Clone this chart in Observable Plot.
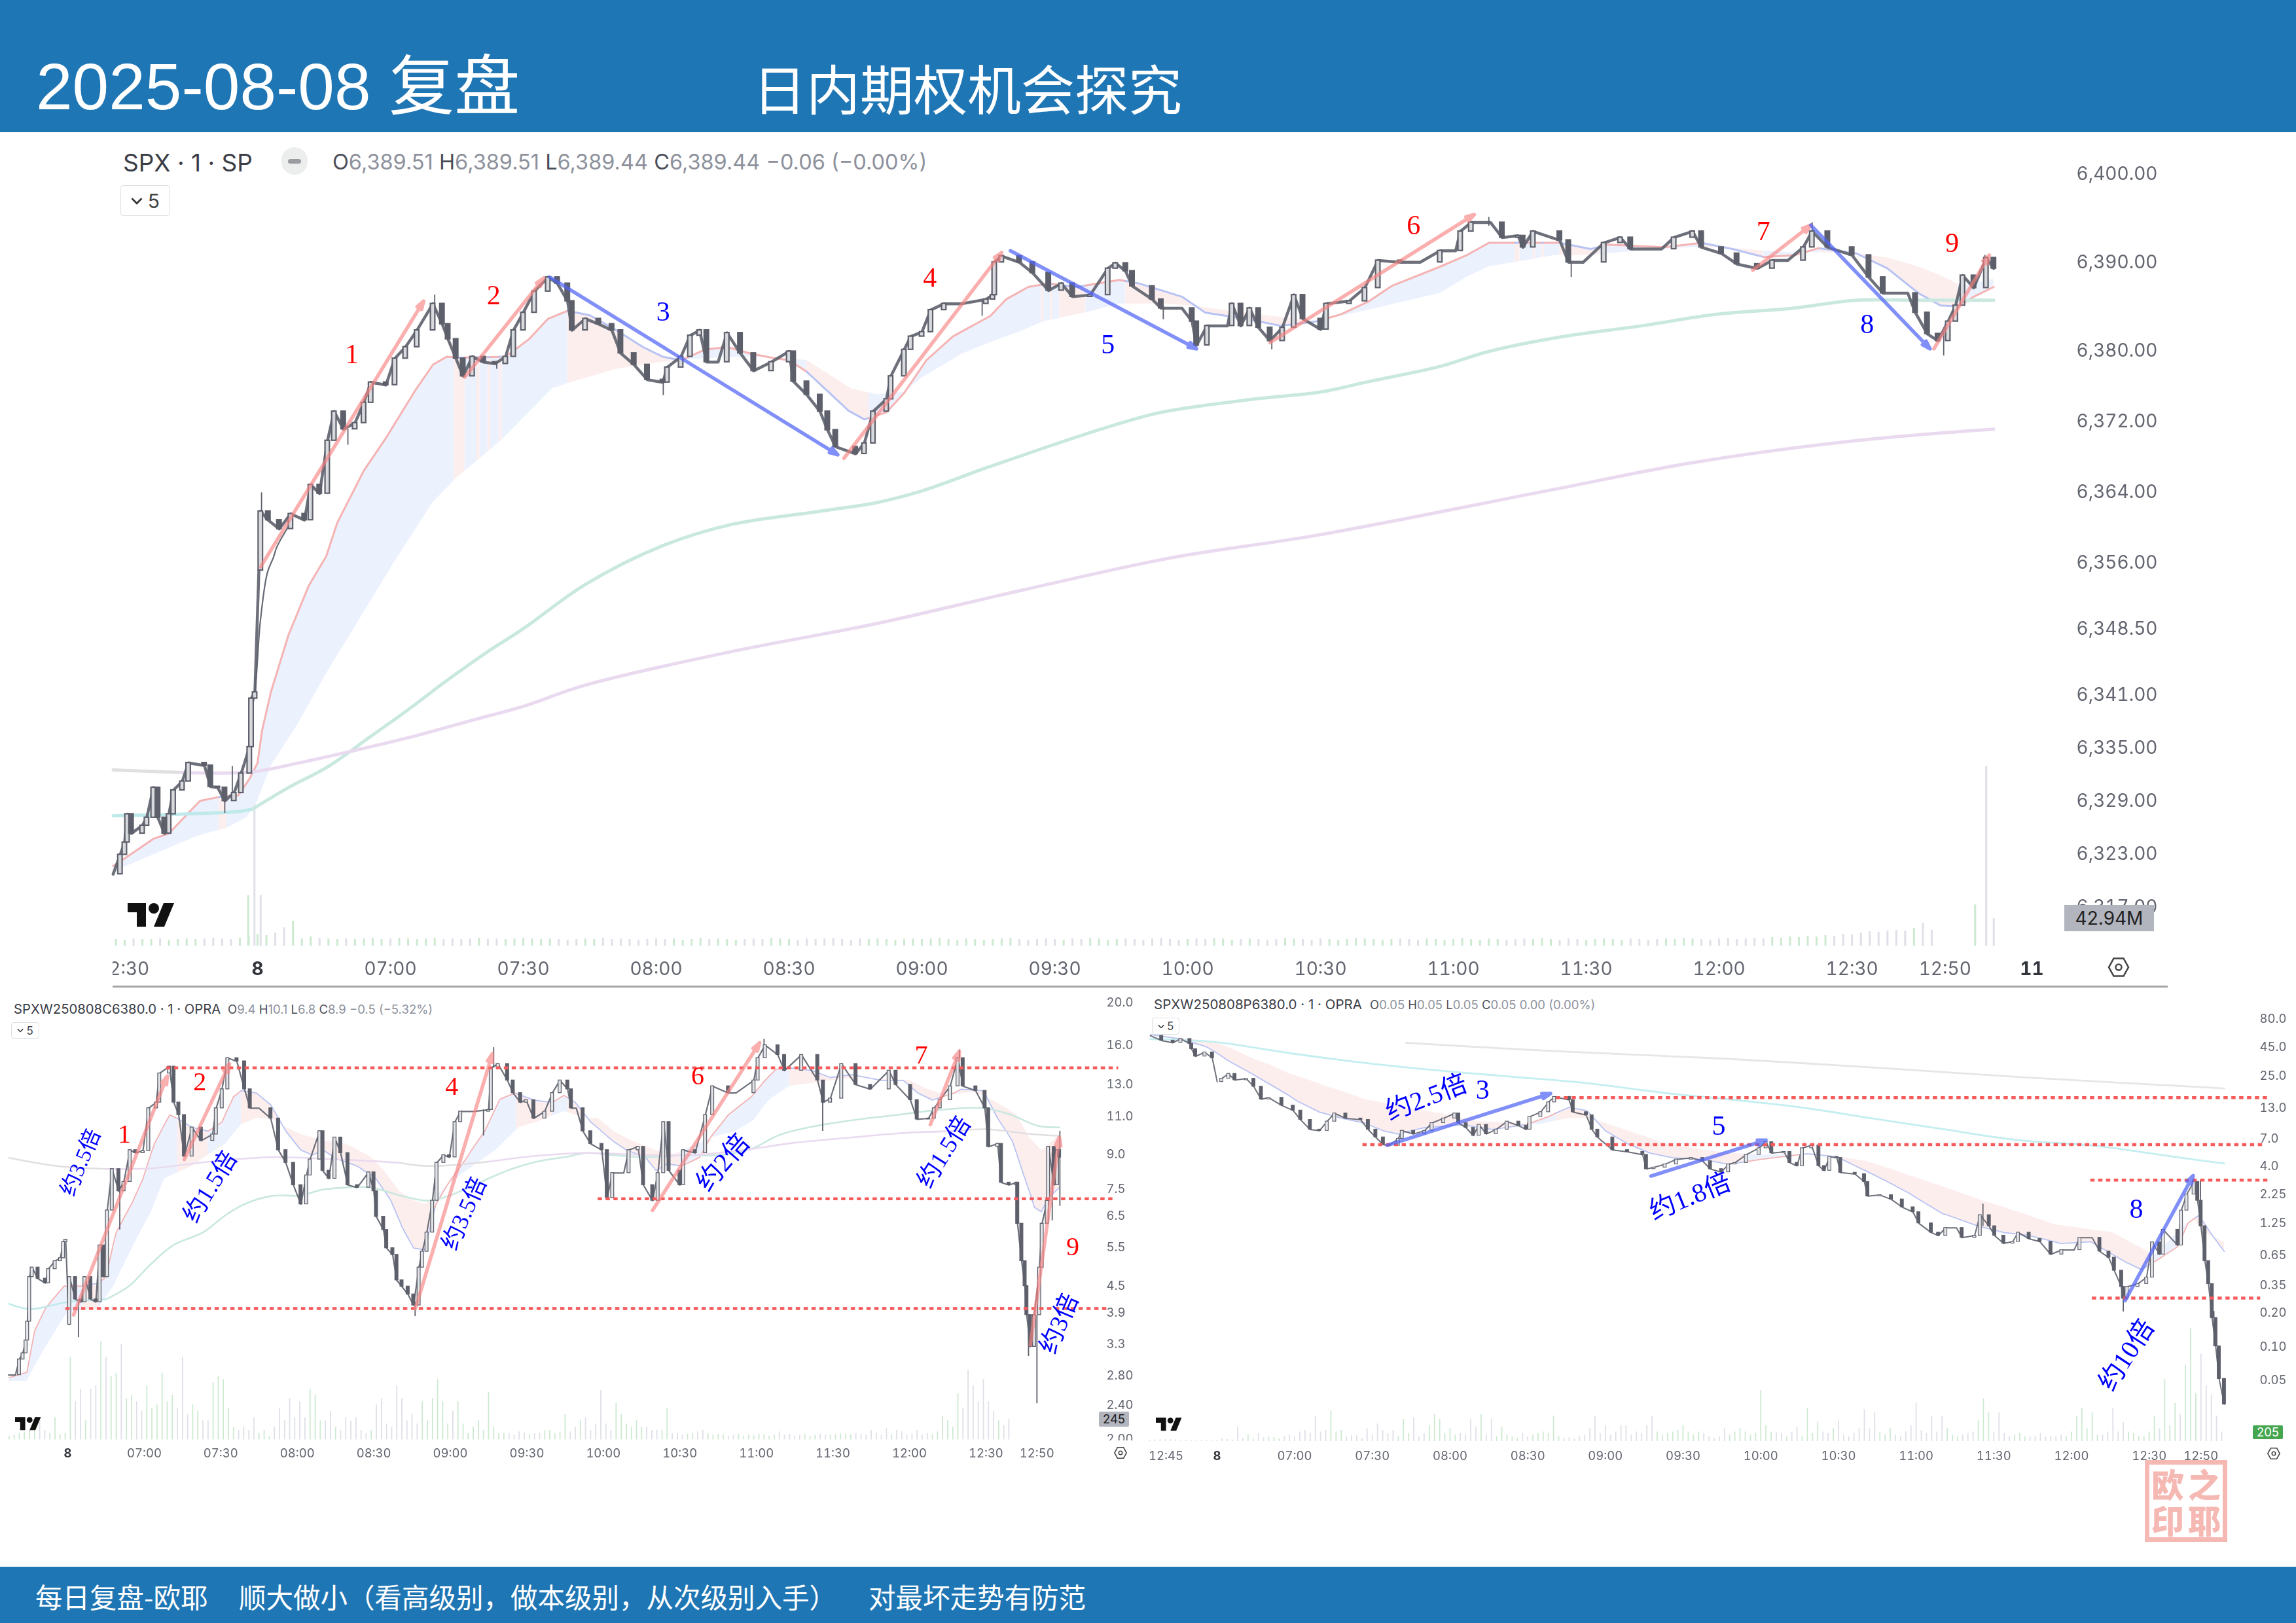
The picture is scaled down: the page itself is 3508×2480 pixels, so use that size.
<!DOCTYPE html>
<html><head><meta charset="utf-8">
<script src="https://cdn.jsdelivr.net/npm/d3@7"></script>
<script src="https://cdn.jsdelivr.net/npm/@observablehq/plot@0.6"></script>
<style>
html,body{margin:0;padding:0;background:#fff}
#page{position:relative;width:3508px;height:2480px;overflow:hidden;background:#fff;font-family:Inter,"Noto Sans CJK SC",sans-serif}
#page>svg{position:absolute;background:transparent;max-width:none}
.abs{position:absolute;white-space:pre}
</style></head><body><div id="page"></div>
<script>
// ---------- SPX 1-minute session (minutes after 06:30, price) ----------
const spxT=[-32.6,-31,-30,-29.4,-28.5,-26,-25,-23.5,-22.5,-21,-20,-19,-17,-15.6,-12,-10.6,-9,-7.4,-5.3,-3.7,-1.8,-1.4,-0.6,0.3,0.7,2.4,4.9,7.5,10.6,12,14,15.8,17.3,19.4,22,24,25.6,29,31,33.4,36,39.6,41.7,43,44.8,46.4,48.5,51,53.6,56,57.8,60,62.5,65.6,67.7,70,71,74,77,80,82,85,88,91.5,92.5,95.6,97.7,99.8,101.4,104,106,109,112,116,120,121,124,127,128.7,130.5,135,137,139,142,143,146,147.5,150,152,155,159,164.5,166,166.4,168,172,175,178.6,181.5,184,188,192,193.7,196,197.5,202,204,208.7,211,212,214.4,219,220,222,224,226,228.6,231.4,234,236,240,241.3,246.5,250,253,258,262.5,267,270.5,271.6,274,278.4,281,284.6,285.7,288,294,296,299.3,304,307.7,310,317,319.8,324,326,330.5,334,338.6,342,345.5,349,351,354.5,360,363.8,367,372.6,374.3,377,379.4,381.7,383.4,385,387.5,390.3,392];
const spxC=[6320.6,6322.8,6324.2,6327.4,6325.2,6326.1,6327,6330.4,6327,6325.2,6327.4,6330.1,6331.1,6333.2,6332.9,6330.5,6330.4,6328.9,6329.8,6332,6335,6340.5,6341.2,6355,6361.7,6360.7,6359.7,6361.4,6360.7,6364.7,6363.7,6369.7,6373,6371,6371.7,6374,6376.3,6376,6379,6380.3,6382.2,6385.2,6382.9,6381.2,6379,6377,6379.2,6378.6,6378.4,6379.2,6382.2,6384.2,6386.6,6388.2,6387.5,6385.5,6382.2,6383.5,6382.9,6382.2,6379.6,6378.3,6376.6,6376.3,6378,6379.2,6381.6,6382.2,6378.6,6378.6,6381.9,6379.6,6377.6,6378.6,6379.8,6376.4,6374.9,6373,6370.9,6369,6368.2,6369.4,6373,6374.4,6377,6380,6381.5,6382,6384.5,6385.2,6385.2,6385.7,6386.2,6389.9,6390.6,6389.9,6388.7,6386.7,6387.5,6386,6386.2,6389.2,6389.8,6388.9,6387.2,6385.7,6384.7,6384.7,6383.2,6380.5,6382.7,6382.7,6385.2,6382.7,6384.7,6382.5,6381,6382.5,6386.2,6383.5,6382.3,6385.2,6385.5,6387,6390.1,6389.9,6389.9,6391.2,6391.2,6393.4,6394.4,6394.4,6392.7,6392.9,6391.6,6393.4,6392.4,6389.9,6389.9,6392.1,6392.7,6391.4,6391.4,6392.7,6393.4,6391.6,6390.9,6389.7,6389.2,6390.1,6390.1,6391.6,6393.4,6391.6,6390.7,6388.2,6386.4,6386.4,6384.2,6381.8,6381,6383.2,6385,6388.4,6387,6390.4,6389.2];
const spxGapT=[0.3];
const spxWickT=[-7.4,-5.7,0.9,20.4,40,54,91.6,163.6,204.5,229,278,296.6,351,380.7,390];
const spxWickHi=[6329,6332.8,6363.8,6371,6386.2,6378.6,6376.3,6385.5,6385,6381,6395,6390,6394.4,6382,6390.7];
const spxWickLo=[6327.5,6329.8,6355,6369.2,6384,6377.8,6374.8,6383.8,6383.4,6380,6394,6388.2,6392,6379.3,6389];
const spxFastT=[-32.6,-23.5,-20,-17,-13,-8,-4.4,-1.8,0,1,3,7,11.5,15.5,18,24,29,35.5,39.6,42.7,45.8,56,61.3,65.6,70,75,81,87,91.5,95.6,101,106,111,116,120,124,128.7,133.4,137,142,146,151,157,165.4,169,174,178.6,185,194.6,199,208.7,214,223,231,239,244.6,251,256,267,273,278,282,294,301,305,317.5,326,333,340,347,352.5,361,368,375,380,384,387.5,392];
const spxFast=[6321.5,6324.6,6325.2,6326.8,6328.9,6329.4,6329.5,6331.4,6333.2,6336.8,6341.2,6347.7,6353.2,6356.6,6360.4,6366.3,6370,6375.3,6378.3,6379.2,6379.1,6379.2,6381.2,6383.5,6384.4,6383.9,6382.2,6380.3,6379.2,6378.8,6380,6380.3,6379.6,6379.1,6378.8,6377.5,6375.3,6373.1,6372.1,6372.9,6375.1,6378.8,6381.5,6383.8,6385.7,6387.1,6387.5,6387.1,6387.9,6387.5,6386,6384.2,6383.5,6382.7,6383.2,6384,6385.5,6387.2,6389.4,6390.7,6392.1,6392.1,6392.1,6391.4,6391.9,6391.6,6392.1,6391.4,6390.5,6390.7,6391.5,6390.9,6389.2,6386.4,6385,6384.9,6386,6387.1];
const spxSlowT=[-31,-23.5,-13.6,-7,-2.4,0,3,9,16,22.6,30.6,39.6,44.8,55,66.6,70.8,81,91.5,95.6,101,110,116,124,128.7,134,140,146,150,159,166.4,172,177.6,187,194.6,205,212,222,231,239,251,267,273,278,284,293,301,312,324,333,340,347,352.5,361,368,375,380,385,392];
const spxSlow=[6321.2,6322.8,6324.9,6325.8,6327,6328.9,6332.8,6337.5,6343.7,6349.1,6355.7,6362.7,6365.4,6369.7,6375.6,6376.3,6377.8,6378.6,6378.8,6379,6379.2,6379.1,6378.8,6377.3,6375.6,6374.9,6375.2,6376.8,6379.5,6381,6382,6383.2,6384.2,6385.2,6385.2,6384.9,6384.2,6383.7,6383.2,6384.5,6386.4,6388.2,6389.4,6389.9,6390.7,6390.7,6391.2,6391.6,6391.5,6391.2,6391,6391,6390.9,6390.4,6389.4,6388.4,6387.2,6388];
const spxBear=[[-8.7,-7],[44.4,46.8],[49.5,50.2],[52,52.6],[54.6,55.2],[70,95.6],[124,138],[177,177.5],[179,179.5],[181,187],[196,240],[284,285],[288,288.5],[290,290.5],[294,303],[326,340],[353,384]];
const spxGreenT=[-32.6,-17,-4,-1,7,16,25,34.5,42.4,52,60,74,91,107,127,140,150,165,179.5,193,204,225,240,251,267,278,295,312.5,329.3,346.6,361,374.7,392];
const spxGreen=[6327.2,6327.4,6327.7,6328,6330.4,6332.8,6336,6339.4,6342.4,6345.8,6348.4,6353.4,6357.7,6360.2,6361.7,6362.7,6364,6366.7,6369.2,6371.4,6372.9,6374.4,6375.2,6376.4,6378.1,6379.8,6381.5,6382.7,6384,6384.7,6385.6,6385.6,6385.6];
const spxPurpleT=[-32.6,-17,-1,9.4,21,36,49,60,74,107,140,173,206,239.4,291,324,361,392];
const spxPurple=[6332.4,6332.1,6332.2,6333.2,6334.5,6336.3,6338.1,6339.6,6342,6345.8,6349,6352.8,6356.4,6359,6364,6367.2,6369.7,6371];
const spxGrayT=[-2,-0.5,0.6,2.2,3.6,4.4,7.5];
const spxGray=[6336.9,6341.8,6349.1,6354.7,6356.5,6357.7,6360.4];
const spxArrowFromT=[0.7,46.8,66,132.4,170,228.6,337.6,350.7,378.5];
const spxArrowFromP=[6355.4,6376.9,6388.2,6367.7,6391.2,6380.8,6389,6394.1,6380.1];
const spxArrowToT=[37.5,64.6,131,168,212,274.7,350.7,377.6,391];
const spxArrowToP=[6385.5,6388.1,6368.1,6391,6380.1,6395.3,6394.1,6380.1,6390.7];
const spxArrowUp=[1,1,0,1,0,1,1,0,1];
const spxNumT=[21.3,53.3,91.6,151.8,192,261,340,363.4,382.6];
const spxNumP=[6379.5,6386.1,6384.3,6388.1,6380.6,6394.1,6393.4,6382.9,6392.1];
const spxNumText=["1","2","3","4","5","6","7","8","9"];
const spxYTicks=[6400,6390,6380,6372,6364,6356,6348.5,6341,6335,6329,6323,6317];
const spxYLabels=["6,400.00","6,390.00","6,380.00","6,372.00","6,364.00","6,356.00","6,348.50","6,341.00","6,335.00","6,329.00","6,323.00","6,317.00"];
const spxXTicks=[-29,30,60,90,120,150,180,210,240,270,300,330,360,381];
const spxXLabels=["2:30","07:00","07:30","08:00","08:30","09:00","09:30","10:00","10:30","11:00","11:30","12:00","12:30","12:50"];
const spxXBoldTicks=[0,400.6];
const spxXBoldLabels=["8","11"];
const spxVolStart=-32;
const spxVol=[10,9,11,10,10,11,9,10,11,10,11,12,11,10,12,14,18,16,20,28,38,11,14,12,11,10,11,10,11,12,10,11,12,11,10,11,12,10,11,10,11,12,10,11,10,11,12,11,10,11,10,9,10,11,10,12,10,11,10,9,10,11,10,11,9,10,12,10,11,10,9,10,11,10,12,11,10,9,11,10,11,12,10,9,11,10,11,10,9,10,11,10,11,12,10,9,11,10,9,10,11,12,10,9,10,11,10,9,11,10,12,11,9,10,11,10,9,11,12,10,9,10,11,10,12,11,9,10,11,10,9,10,12,11,10,9,11,10,9,10,12,11,10,9,10,11,10,9,11,10,9,10,12,10,9,11,10,9,10,11,10,12,10,9,11,10,9,10,11,10,9,11,10,9,10,11,10,12,11,10,9,11,12,10,11,12,11,13,12,14,13,15,14,16,15,18,17,20,22,21,23,24,23,27,35,24];
const spxVolSpikeT=[-2.1,-0.7,0.7,387.8,390.3,392];
const spxVolSpike=[77,270,77,63,275,42];
const spxVolSpikeDown=[0,1,1,0,1,1];

// ---------- call SPXW250808C6380 ----------
const callT=[-23.2,-20.5,-19,-17.6,-16.4,-15.8,-15,-14,-11.7,-8.8,-7.6,-5,-2.9,-1.7,-0.8,0.5,0.7,3,5.2,6.7,9,11,12.6,14,15.5,17.4,20,22,24.4,26.6,29.5,31.7,34.7,36,39.8,41.6,43.5,45.7,48.7,52.3,56.8,58.2,60.5,62.7,66.3,69.3,71.5,75,79.6,82.6,85.5,88.5,91.4,93.6,95,98.8,100,102.4,104.7,107,109.8,113.5,118,120,121,123.8,125,127.4,129,131,133.4,135.6,137.7,139,140.8,143,144.7,147.4,149.6,151.8,154,159,165,166,168.7,172.4,174.6,177.5,179.7,182.7,187,190,193,196,197.4,199.4,202,205,209.4,211.5,213.6,218,220,223.6,225.7,229.3,231.4,233.6,235.7,240,241.4,246,250,252.8,259,262,269,270.6,273.4,278.4,281,287.7,294,296.2,299,303.4,309,314.7,322,324.7,330.4,333,337.5,339.7,342,346,349,351,356,359.6,361,364.6,366,369,372,372.4,374,375.3,376,377.4,379,381,382,384,384.5,386.7,388,388.8];
const callC=[2.79,2.79,3.03,3.13,3.35,3.7,4.68,4.92,4.64,4.53,4.88,5.09,5.17,5.63,5.7,3.64,4.68,4.16,4.1,4.68,4.16,4.1,5.53,4.68,6.65,8.27,7.36,7.73,9.14,9,9.1,11.4,11.75,13.7,14.2,11.75,11,8.84,10.3,9.6,9.93,11.4,12.6,14.85,14.6,12.6,11.4,11.4,10.8,9.14,8.55,7.6,6.87,8,8.7,10.1,8.2,7.86,9.77,9,7.6,7.5,8.13,7.36,6.43,6,5.45,5.26,4.6,4.45,4.27,4.03,4.92,5.35,5.92,7,8.55,8.9,8.8,10.6,11.2,11.2,11.3,14.1,14.4,13.2,12.35,11.75,11.9,10.8,11.2,12.35,13.2,12.6,11.4,11.4,10.1,9.45,9.14,7.1,8.1,8.1,9.14,9.3,7.6,7,8.1,10.6,8.2,7.6,9.14,9,11,12.8,12.35,12.35,13.2,14.85,15.9,15.1,13.9,15.1,13.2,11.75,12,14.4,12.9,12.6,13.9,12.9,11.9,10.75,10.8,11.4,11.9,12.8,14.85,12.8,12.5,11.4,9.3,9.45,7.7,7.6,7.7,6.2,5.09,4.46,3.83,3.24,3.83,4.92,6.2,7,9.3,7.6,9.14,8.8];
const callGapT=[0.5];
const callWickT=[4.2,20.4,136.2,163,167,273,296,349.6,376.7,380,386,389];
const callWickHi=[4.1,7.36,4.1,11.3,15.7,16.4,11.75,15.5,3.83,3.83,9,10.1];
const callWickLo=[3.4,6,3.8,9.85,14.1,15.9,10.1,14.85,3.08,2.4,6.3,6.8];
const callFastT=[-23,-16,-13,-8.8,-1.4,6,12,15,19,25,29.5,34,40,43,48.7,55,60.5,65,68,74,79.6,85.5,91.4,96,100,106,113.5,120.8,126.7,131,135.6,140,144.4,148.8,156,163.5,169.5,175.3,182.7,190,194.5,199,205,213.6,219,226.5,230.7,235,240.7,247.8,252,259,268,273.4,277.7,283.4,292,299,307.6,319,327.6,333.3,339,347.5,350.3,358.9,364.6,370.3,374.5,379,381.7,384.5,388.8];
const callFast=[2.75,2.83,3.52,3.96,4.46,4.46,4.53,4.68,5.92,6.87,7.86,9.45,11,10.8,10.3,10.1,10.6,12.1,12.5,12.35,11.6,10.1,9.14,8.9,9.14,8.7,8.4,7.86,7,6.1,5.45,5.4,6.87,7.6,8.7,10.1,11.95,12.35,11.9,11.75,12.2,11.75,10.6,9.6,9.14,8.8,8.2,8.5,8.4,8.8,9.77,11,12.1,13.2,14,14.1,13.9,13.4,13.6,13.2,13.2,12.35,11.9,12.35,12.6,12.5,10.8,9.6,8.1,6.76,6.6,7.1,7.5];
const callSlowT=[-16,-7,0,12,18,24,32.5,38,43,48.7,55,62,68,74,80,85.5,91.4,100,109,119,124,130,135.6,140,143,150,159,168,177,184,194.5,204,208,214,221,231,238,253,262,269,275,283,292,300,310,330,337,345,355,360,368,372,377,382,388.8];
const callSlow=[2.7,3.35,3.89,3.96,4.46,5.26,6.54,7.86,8.1,8.4,8.9,9.45,10.45,10.8,10.8,10.3,9.93,9.6,9.45,8.8,8.2,7.36,7,6.87,7,7.7,8.4,9.14,10.3,10.6,11.2,10.8,10.8,10.1,9.6,9.1,8.94,9.77,10.1,10.7,11.9,12.8,13,13.2,13.4,13.2,12.6,12.2,12.4,12.1,11.4,11,9.77,9.1,9.9];
const callBear=[[6,12],[43,55],[68,144],[176,190],[196,240],[283,342],[350,388.8]];
const callGreenT=[-23,-14.6,0,15,24,32.5,41.3,53,62,69.3,79.6,91.4,100,109,119,130,141.5,150,162,174,184,194.5,204,213.6,228,242,256,268,279,290.5,307.6,325,342,359,370,380,388.8];
const callGreen=[4.06,3.95,4.1,4.16,4.46,5,5.53,5.92,6.49,6.87,7.17,7.2,7.42,7.5,7.5,7.2,7,7.2,7.73,8.27,8.6,8.8,9,8.9,8.8,8.9,8.9,9.2,9.9,10.3,10.7,11,11.3,11.4,11,10.4,10.3];
const callPurpleT=[-23,-4,15,32.5,56,80,106,130,141.5,165,187,204,228,245,265,285,307.6,327.6,347.5,360,377.4,388.8];
const callPurple=[8.77,8.4,8.27,8.3,8.6,8.8,8.7,8.55,8.4,8.6,8.9,9,8.9,8.9,9.14,9.5,9.77,10,10.1,10.2,9.95,9.85];
const callDashFrom=[38.7,-0.8,207.9];
const callDashTo=[412,408,410];
const callDashV=[14.1,3.96,7.07];
const callArrowFromT=[2.3,45.7,136.3,229.3,338.2,377.4];
const callArrowFromV=[3.83,8.7,3.96,6.65,10.45,3.27];
const callArrowToT=[39,63.4,166.5,271.3,349.6,388.8];
const callArrowToV=[13.5,14.4,15.2,16.1,15.4,9.77];
const callNumT=[22.2,51.8,150.6,247,334.6,394];
const callNumV=[9.92,13.08,12.77,13.5,15.1,5.48];
const callNumText=["1","2","4","6","7","9"];
const callNoteT=[5.1,55.9,155.5,257,343.6,388.8];
const callNoteV=[8.56,7.53,6.54,8.56,9.04,3.66];
const callNoteText=["约3.5倍","约1.5倍","约3.5倍","约2倍","约1.5倍","约3倍"];
const callNoteAngle=[-67,-58,-66,-49,-58,-67];
const callNoteSize=[33,37,36,40,37,38];
const callYTicks=[20,16,13,11,9,7.5,6.5,5.5,4.5,3.9,3.3,2.8,2.4,2];
const callYLabels=["20.0","16.0","13.0","11.0","9.0","7.5","6.5","5.5","4.5","3.9","3.3","2.80","2.40","2.00"];
const callXTicks=[30,60,90,120,150,180,210,240,270,300,330,360,380];
const callXLabels=["07:00","07:30","08:00","08:30","09:00","09:30","10:00","10:30","11:00","11:30","12:00","12:30","12:50"];
const callVolStart=-23;
const callVol=[10,15,20,25,30,45,60,30,20,70,15,20,260,120,160,60,160,170,310,260,200,210,300,130,140,120,90,170,100,110,210,120,140,100,260,80,110,90,60,60,180,200,190,100,40,30,40,30,70,20,30,10,40,100,60,130,70,120,70,160,140,60,60,90,40,30,70,60,70,30,20,30,110,130,50,40,170,130,60,80,50,120,60,130,190,120,50,90,120,50,20,40,60,30,150,40,20,20,20,15,25,20,15,20,20,30,30,20,25,80,25,40,60,70,30,50,155,50,30,115,80,50,40,60,40,40,30,30,30,100,20,20,15,18,20,25,30,20,15,18,15,12,15,18,12,15,12,18,15,12,15,25,15,18,12,15,18,12,15,18,14,15,15,20,18,15,20,18,15,30,20,15,35,15,30,25,15,18,30,15,20,15,25,75,60,40,145,100,220,170,120,190,120,90,60,45,65];

// ---------- put SPXW250808P6380 ----------
const putT=[-25.7,-21.4,-17,-14,-10.5,-9.8,-8.3,-4.7,-1.8,0.1,1.8,4.5,6.9,11.3,14.2,17.1,20,25,29.4,32.3,36,39.6,42.5,45.4,49.7,55.5,58.4,61.3,64.2,66.4,70,71.5,75.9,80.2,83,87.5,91.8,93.3,96.2,99,101.2,104,107.8,112,116.5,119.4,120.8,125,128,130.3,136,137.5,142.6,144.8,147,152.8,158.5,164.4,165.8,168.7,173,177.4,183.2,187.6,190.5,194.8,197.5,200,204.4,209.3,212,214.2,219,221.2,224,226,229.6,232.4,234.5,236.6,239.4,240.8,246.4,250,251.3,256,260.4,264.6,268.8,271,275.8,278.6,281.4,285.6,287.7,292.6,294.7,298.2,300.3,303.8,307.3,309.4,313.6,317.8,322,326.2,331,333.2,338,340.9,344.4,346.5,349.3,350,351.4,355.6,359,361.2,364,365.4,371,372.4,374.5,377.3,378.7,380,381.5,382.9,384.3,385.7,387,389];
const putC=[55.7,50.5,48.2,52.2,47.3,42.4,36.5,39.7,35.3,21.7,23.2,25.6,22.5,23.2,19.7,15.2,15.7,13.4,12.1,10,8.2,8,9.66,11.4,10.3,10,8.2,7,6.03,5.9,6.8,8,7.47,8,9.36,10.3,11.4,9.36,8.5,7.24,9.05,7.47,8.2,9.66,8.85,8.2,10.65,11.7,14.3,16,15,11.7,11,8.2,7,5.4,5.2,4.9,3.66,3.78,4.03,4.45,4.6,4.3,3.66,3.43,4.03,4.15,4.9,5.6,6.35,5.06,5.2,4.16,3.9,5.6,5.94,3.9,3.54,4.7,4.6,3.4,3.3,2.82,2.1,2.15,1.97,1.68,1.52,1.21,1,0.94,1.1,1.1,0.9,0.94,1.43,1.14,0.94,0.8,0.83,1,0.88,0.83,0.64,0.7,0.7,0.9,0.9,0.68,0.6,0.46,0.33,0.26,0.33,0.35,0.4,0.82,0.64,1.06,0.77,1.57,2.18,2.82,1.92,1.14,0.56,0.35,0.175,0.098,0.0504,0.03];
const putGapT=[0.1];
const putWickT=[295.8,350,379.8,372,385];
const putWickHi=[1.79,0.33,2.92,1.57,0.2];
const putWickLo=[1.14,0.198,1.92,0.77,0.098];
const putFastT=[-25.7,-14,-4,4.8,13.5,22,30.9,39.6,48.3,57,64.2,70,80,94.7,106.3,119.4,128,136,142.6,150,158.5,167.3,176,187.6,197.5,210,228,239.4,249,259,270,280,294,304,313.6,326,337.4,345.8,351.4,357,362.6,371,375,379,383.6,389];
const putFast=[57,52,44.3,33,25.6,19.7,14.7,11.7,10.3,9.36,8,7.47,8.5,9.05,8.2,9.05,10.65,12.9,12.1,8,6.14,5.06,4.6,4.45,4.03,4.45,5,4.7,3.66,2.82,2.04,1.48,1.14,1,0.94,0.8,0.83,0.64,0.54,0.47,0.56,0.75,1.21,1.41,1,0.68];
const putSlowT=[-25.7,-11,-1,13.5,28,42.5,57,71.5,86,100.5,115,124,136,144,158.5,173,187.6,197.5,211.4,225,239.4,250.6,267.4,281.4,295.4,309.4,323.4,337.4,345.8,352.8,362,371,377,381,389];
const putSlow=[57,52,49,35.3,25.6,19.7,15.2,12.9,11.4,9.66,9.36,9.05,10.3,10.3,8,6.14,5.4,5.06,4.9,4.9,4.7,4.3,3.2,2.5,1.92,1.52,1.18,1.06,1,0.82,0.62,1,1.34,1,0.82];
const putBear=[[-25.7,119],[131,205],[225,361],[378,389]];
const putCyanT=[-25.7,-1,28,57,86,115,144,173,197.5,225.4,253,281.4,309.4,337.4,351.4,372.4,389];
const putCyan=[52,49,39,32,27.3,24,21,17.3,15.2,12.9,10.3,8.2,6.6,5.94,5.4,4.6,4.1];
const putGrayT=[73,115,158.5,197.5,253.4,309.4,389];
const putGray=[48.2,42.4,38,34.7,29.1,24,19];
const putDashFrom=[131,56.3,337.4,338];
const putDashTo=[406.6,403.8,406.6,403];
const putDashV=[15.7,6.03,2.92,0.262];
const putArrowFromT=[65.7,167.6,350.7];
const putArrowFromV=[5.94,3.17,0.249];
const putArrowToT=[128.8,212,377];
const putArrowToV=[17.1,6.6,3.2];
const putNoteT=[80.9,182.7,351.3,102.6,193.8,355];
const putNoteV=[15.7,2.08,0.0818,18.4,8.81,1.62];
const putNoteText=["约2.5倍","约1.8倍","约10倍","3","5","8"];
const putNoteAngle=[-21,-22,-57,0,0,0];
const putNoteSize=[40,40,40,42,42,42];
const putYTicks=[80,45,25,13,7,4,2.25,1.25,0.65,0.35,0.2,0.1,0.05];
const putYLabels=["80.0","45.0","25.0","13.0","7.0","4.0","2.25","1.25","0.65","0.35","0.20","0.10","0.05"];
const putXTicks=[-19.7,30,60,90,120,150,180,210,240,270,300,330,360,380];
const putXLabels=["12:45","07:00","07:30","08:00","08:30","09:00","09:30","10:00","10:30","11:00","11:30","12:00","12:30","12:50"];
const putVolStart=-30;
const putVol=[4,3,3,5,5,6,6,5,3,3,3,3,3,3,3,3,8,6,5,45,10,20,8,25,12,14,12,8,15,20,15,30,35,25,80,30,35,95,30,35,15,20,18,10,40,20,55,35,25,35,15,70,25,75,15,25,50,85,70,25,40,20,25,20,70,45,85,20,70,15,45,20,15,10,25,15,20,25,30,25,80,15,10,12,8,15,20,40,80,25,50,20,30,50,50,20,30,25,50,80,30,20,25,30,35,50,30,20,30,25,15,10,15,40,20,30,40,30,20,25,160,50,30,30,25,15,30,45,15,105,25,60,30,25,40,65,20,15,25,40,100,40,90,30,20,40,20,15,30,50,120,35,25,80,30,80,40,20,15,20,25,30,65,135,90,30,90,25,15,20,25,15,15,15,25,15,15,15,20,15,30,80,105,40,90,20,20,30,105,30,60,30,25,15,15,30,80,40,195,50,120,85,240,355,150,275,175,145,80,30];

// ---------- page text ----------
const titleText="2025-08-08 复盘";
const subtitleText="日内期权机会探究";
const footerTexts=["每日复盘-欧耶","顺大做小（看高级别，做本级别，从次级别入手）","对最坏走势有防范"];

const RED="#f00",BLUE="#00f",ARROW_RED="rgba(248,130,130,.65)",ARROW_BLUE="rgba(80,100,245,.72)",DASH="#f65a5a";
const CLOUD_BLUE="#ecf1fe",CLOUD_PINK="#fdeeee",LINE_RED="#f5b3b3",LINE_BLUE="#b7c3f3";
const UP_VOL="#cde9d0",DOWN_VOL="#dfe0e8",CANDLE="#5d606b";
const TICK_FONT="Inter,Roboto,sans-serif",NOTE_FONT='"Liberation Serif","Noto Sans CJK SC",serif';

const page=document.getElementById("page");
function interp(T,V,t){
  if(t<=T[0])return V[0];if(t>=T[T.length-1])return V[V.length-1];
  const i=d3.bisectRight(T,t);const a=(t-T[i-1])/(T[i]-T[i-1]);return V[i-1]+a*(V[i]-V[i-1]);
}
function cloudMarks(fT,fV,sT,sV,bear,sw){
  const lo=fT[0],hi=fT[fT.length-1];
  const spans=[];let cur=lo;
  for(const [a,b] of bear){if(a>cur)spans.push([cur,a,0]);spans.push([a,b,1]);cur=b;}
  if(cur<hi)spans.push([cur,hi,0]);
  const grid=Array.from(new Set([...fT,...sT])).sort((a,b)=>a-b);
  const out=[];const lines=[];
  for(const [a,b,isBear] of spans){
    const ts=[a,...grid.filter(t=>t>a&&t<b),b];
    const rows=ts.map(t=>({t,f:interp(fT,fV,t),s:interp(sT,sV,t)}));
    out.push(Plot.areaY(rows,{x:"t",y1:"f",y2:"s",fill:isBear?CLOUD_PINK:CLOUD_BLUE,curve:"linear"}));
    lines.push(Plot.line(rows,{x:"t",y:"f",stroke:isBear?LINE_BLUE:LINE_RED,strokeWidth:sw}));
  }
  return [...out,...lines];
}
function rows2(T,V){return T.map((t,i)=>({t,v:V[i]}));}
function seriesLine(T,V,stroke,sw,from=-Infinity,to=Infinity){
  return Plot.line(rows2(T,V).filter(d=>d.t>=from&&d.t<=to),{x:"t",y:"v",stroke,strokeWidth:sw,curve:"catmull-rom"});
}
function candleMarks(T,C,gap,wT,wH,wL,halfW,lineW,strokeW,upFill){
  const rows=T.map((t,i)=>({t,c:C[i],o:i?C[i-1]:C[i],seg:d3.bisectRight(gap,t-0.001)}));
  const bodies=rows.filter((d,i)=>i>0&&!gap.includes(d.t));
  const up=bodies.filter(d=>d.c>=d.o),down=bodies.filter(d=>d.c<d.o);
  const wicks=wT.map((t,i)=>({t,h:wH[i],l:wL[i]}));
  return [
    Plot.ruleX(wicks,{x:"t",y1:"h",y2:"l",stroke:CANDLE,strokeWidth:1.8}),
    Plot.line(rows,{x:"t",y:"c",z:"seg",stroke:CANDLE,strokeWidth:lineW,strokeOpacity:.9}),
    Plot.rect(up,{x1:d=>d.t-halfW,x2:d=>d.t+halfW,y1:"o",y2:"c",fill:upFill,stroke:"#5d606b",strokeWidth:strokeW}),
    Plot.rect(down,{x1:d=>d.t-halfW,x2:d=>d.t+halfW,y1:"o",y2:"c",fill:CANDLE,stroke:CANDLE,strokeWidth:strokeW})
  ];
}
function arrows(fT,fV,tT,tV,color,sw,hl){
  const rows=fT.map((t,i)=>({x1:t,y1:fV[i],x2:tT[i],y2:tV[i],c:typeof color==="function"?color(i):color}));
  return Plot.arrow(rows,{x1:"x1",y1:"y1",x2:"x2",y2:"y2",stroke:"c",strokeWidth:sw,headLength:hl,headAngle:34,inset:0});
}
function dashes(from,to,V){
  return Plot.ruleY(V.map((v,i)=>({v,a:from[i],b:to[i]})),{y:"v",x1:"a",x2:"b",stroke:DASH,strokeWidth:4.5,strokeDasharray:"6.5 5.5",strokeLinecap:"butt"});
}
function texts(T,V,labels,fill,size,rot){
  return Plot.text(T.map((t,i)=>({t,v:V[i],s:labels[i],a:rot?rot[i]:0,z:Array.isArray(size)?size[i]:size,c:typeof fill==="function"?fill(i):fill})),
    {x:"t",y:"v",text:"s",rotate:"a",fontSize:d=>d.z,fill:"c",fontFamily:NOTE_FONT,textAnchor:"middle",lineAnchor:"middle"});
}
function axes(xT,xL,boldT,boldL,yT,yL,opt){
  const m=[
    Plot.axisX({ticks:xT,text:d=>xL[xT.indexOf(d)],tickSize:0,tickPadding:opt.xPad,fontSize:opt.font,fill:"#636670",fontFamily:TICK_FONT,label:null,anchor:"bottom"}),
    Plot.axisY({ticks:yT,text:d=>yL[yT.indexOf(d)],tickSize:0,tickPadding:0,dy:opt.yDy,fontSize:opt.font,fill:"#636670",fontFamily:TICK_FONT,label:null,anchor:"right",textAnchor:"start"})
  ];
  if(boldT.length)m.push(Plot.axisX({ticks:boldT,text:d=>boldL[boldT.indexOf(d)],tickSize:0,tickPadding:opt.xPad,fontSize:opt.font,fontWeight:700,fill:"#33353c",fontFamily:TICK_FONT,label:null,anchor:"bottom"}));
  return m;
}
function place(svg,left,top){svg.style.left=left+"px";svg.style.top=top+"px";page.appendChild(svg);}
function volumePlot(o){
  const color=(t)=>{const i=d3.bisectRight(o.T,t)-1;return (i>0&&o.C[i]<o.C[i-1])?DOWN_VOL:UP_VOL;};
  const bars=o.vol.map((v,i)=>({t:o.start+2*i,v,c:color(o.start+2*i)}));
  const extra=(o.spikeT||[]).map((t,i)=>({t,v:o.spike[i],c:o.spikeDown[i]?DOWN_VOL:UP_VOL}));
  const svg=Plot.plot({width:o.w,height:o.h,margin:0,style:{background:"transparent"},
    x:{domain:o.xd,range:o.xr,axis:null},y:{domain:[0,o.vmax],range:o.vr,axis:null},
    marks:[Plot.ruleX([...bars,...extra],{x:"t",y1:0,y2:"v",stroke:"c",strokeWidth:o.barW})]});
  place(svg,o.left,o.top);
}
function chart(o,marks){
  const svg=Plot.plot({width:o.w,height:o.h,marginTop:0,marginLeft:0,marginRight:o.mr,marginBottom:o.mb,style:{background:"transparent",filter:"blur(0.6px)"},
    x:{domain:o.xd,range:o.xr,axis:null},y:{type:o.ytype,domain:o.yd,range:o.yr,axis:null},marks});
  place(svg,o.left,o.top);
}
function el(html,style){const d=document.createElement("div");d.className="abs";d.style.cssText+=style;d.innerHTML=html;page.appendChild(d);return d;}
function logo(x,y,w){el(`<svg width="${w}" height="${w*22/36}" viewBox="0 3 36 20"><path fill="#111" d="M14 22H7V11H0V4h14v18zM28 22h-8l7.5-18h8L28 22z"/><circle fill="#111" cx="20" cy="8" r="4"/></svg>`,`left:${x}px;top:${y}px;line-height:0`);}
function gear(cx,cy,s){el(`<svg width="${s}" height="${s}" viewBox="0 0 24 24" fill="none" stroke="#444" stroke-width="1.7"><path d="M7 3h10l5 9-5 9H7l-5-9z"/><circle cx="12" cy="12" r="3"/></svg>`,`left:${cx-s/2}px;top:${cy-s/2}px;line-height:0`);}
function legend(x,y,sym,vals,f1,f2,x2){
  el(sym,`left:${x}px;top:${y}px;font-size:${f1}px;line-height:1;color:#3a3d46;transform:translateY(-50%)`);
  el(vals.map(([k,v])=>`<span style="color:#4a4d57">${k}</span><span style="color:#8d919c">${v}</span>`).join(" "),`left:${x2}px;top:${y}px;font-size:${f2}px;line-height:1;transform:translateY(-50%)`);
}
function chevronBox(x,y,w,h,f){
  el(`<svg width="${f*.6}" height="${f*.4}" viewBox="0 0 12 8" fill="none" stroke="#333" stroke-width="1.8" style="margin-right:${f*.25}px"><path d="M1 1.5l5 5 5-5"/></svg>5`,
     `left:${x}px;top:${y}px;width:${w}px;height:${h}px;box-sizing:border-box;border:1.5px solid #dcdee3;border-radius:4px;font-size:${f}px;color:#444;display:flex;align-items:center;justify-content:center`);
}

// header + footer bars
el("",`left:0;top:0;width:3508px;height:202px;background:#1f76b4`);
el("",`left:0;top:2394px;width:3508px;height:86px;background:#1f76b4`);
const SANS='"Liberation Sans","Noto Sans CJK SC",sans-serif';
el(titleText,`left:55px;top:77px;font:100px/1.1 ${SANS};color:#fff`);
el(subtitleText,`left:1150px;top:88px;font:82px/1.1 "Noto Sans CJK SC",sans-serif;color:#fff`);
[[54,footerTexts[0]],[365,footerTexts[1]],[1327,footerTexts[2]]].forEach(([x,t])=>el(t,`left:${x}px;top:2415px;font:41.5px/1.2 "Noto Sans CJK SC",sans-serif;color:#fff`));

// ---- main SPX panel ----
const pxMain={left:0,top:202,w:3508,h:1303,mr:336,mb:60,xd:[-32.66,410],xr:[172,3167.5],ytype:"linear",yd:[6400,6317],yr:[62,1181.7]};
volumePlot({...pxMain,vol:spxVol,start:spxVolStart,spikeT:spxVolSpikeT,spike:spxVolSpike,spikeDown:spxVolSpikeDown,T:spxT,C:spxC,vmax:300,vr:[1243,943],barW:3});
chart(pxMain,[
  ...cloudMarks(spxFastT,spxFast,spxSlowT,spxSlow,spxBear,3),
  seriesLine(spxGreenT,spxGreen,"#bfe9ea",5,-33,-1),seriesLine(spxGreenT,spxGreen,"#c9e8df",5,-1,400),
  seriesLine(spxPurpleT,spxPurple,"#e2dfe2",5,-33,-17),seriesLine(spxPurpleT,spxPurple,"#eadaf0",5,-17,400),
  seriesLine(spxGrayT,spxGray,"#666a74",2.2),
  ...candleMarks(spxT,spxC,spxGapT,spxWickT,spxWickHi,spxWickLo,0.5,4.5,2.2,"#d8dade"),
  arrows(spxArrowFromT,spxArrowFromP,spxArrowToT,spxArrowToP,i=>spxArrowUp[i]?ARROW_RED:ARROW_BLUE,5.5,3.6),
  texts(spxNumT,spxNumP,spxNumText,i=>spxArrowUp[i]?RED:BLUE,42),
  ...axes(spxXTicks,spxXLabels,spxXBoldTicks,spxXBoldLabels,spxYTicks,spxYLabels,{font:28,xPad:25,yDy:2})
]);
// ---- call panel ----
const pxCall={left:0,top:1510,w:1750,h:760,mr:60,mb:71,xd:[-23.35,420],xr:[12,1739.7],ytype:"log",yd:[20,2],yr:[20,687]};
volumePlot({...pxCall,vol:callVol,start:callVolStart,T:callT,C:callC,vmax:400,vr:[689.5,495.6],barW:1.8});
chart(pxCall,[
  ...cloudMarks(callFastT,callFast,callSlowT,callSlow,callBear,1.8),
  seriesLine(callGreenT,callGreen,"#bfe9ea",2.6,-24,15),seriesLine(callGreenT,callGreen,"#c9e8df",2.6,15,400),
  seriesLine(callPurpleT,callPurple,"#e2dfe2",2.6,-24,15),seriesLine(callPurpleT,callPurple,"#eadaf0",2.6,15,130),
  seriesLine(callPurpleT,callPurple,"#e2dfe2",2.6,130,165),seriesLine(callPurpleT,callPurple,"#eadaf0",2.6,165,347.5),
  seriesLine(callPurpleT,callPurple,"#e2dfe2",2.6,347.5,400),
  ...candleMarks(callT,callC,callGapT,callWickT,callWickHi,callWickLo,0.6,2.2,1.3,"#e4e5e8"),
  dashes(callDashFrom,callDashTo,callDashV),
  arrows(callArrowFromT,callArrowFromV,callArrowToT,callArrowToV,ARROW_RED,5.5,3.6),
  texts(callNumT,callNumV,callNumText,RED,40),
  texts(callNoteT,callNoteV,callNoteText,BLUE,callNoteSize,callNoteAngle),
  ...axes(callXTicks,callXLabels,[0],["8"],callYTicks,callYLabels,{font:18.5,xPad:14,yDy:2})
]);
// ---- put panel ----
const pxPut={left:1750,top:1510,w:1758,h:760,mr:56,mb:69,xd:[-26,410],xr:[6,1731],ytype:"log",yd:[80,0.05],yr:[45,597]};
volumePlot({...pxPut,vol:putVol,start:putVolStart,T:putT,C:putC,vmax:400,vr:[692,498],barW:1.8});
chart(pxPut,[
  ...cloudMarks(putFastT,putFast,putSlowT,putSlow,putBear,1.8),
  seriesLine(putCyanT,putCyan,"#c4eef0",2.8),
  seriesLine(putGrayT,putGray,"#e6e6ea",2.8),
  ...candleMarks(putT,putC,putGapT,putWickT,putWickHi,putWickLo,0.6,2,1.1,"#e4e5e8"),
  dashes(putDashFrom,putDashTo,putDashV),
  arrows(putArrowFromT,putArrowFromV,putArrowToT,putArrowToV,ARROW_BLUE,5.5,3.6),
  texts(putNoteT,putNoteV,putNoteText,BLUE,putNoteSize,putNoteAngle),
  ...axes(putXTicks,putXLabels,[0],["8"],putYTicks,putYLabels,{font:18.5,xPad:16,yDy:2})
]);

// overlays
el("",`left:0;top:1462px;width:172px;height:34px;background:#fff`);
el("",`left:172px;top:1506px;width:3140px;height:3px;background:#a4a4a8`);
el("42.94M",`left:3154px;top:1383px;width:137px;height:40px;background:#b2b5be;color:#222;font:28px/40px ${TICK_FONT};text-align:center`);
el("245",`left:1679px;top:2157px;width:46px;height:23px;background:#b2b5be;border-radius:2px;color:#222;font:18.5px/23px ${TICK_FONT};text-align:center`);
el("",`left:1670px;top:2201px;width:70px;height:10px;background:#fff`);
el("205",`left:3442px;top:2178px;width:46px;height:21px;background:#46a64f;border-radius:2px;color:#fff;font:18.5px/21px ${TICK_FONT};text-align:center`);
logo(195,1376,72);logo(23,2163,40);logo(1766,2164,40);
gear(3237,1478,36);gear(1712,2220,22);gear(3474,2221,22);
legend(188,248,"SPX · 1 · SP",[["O","6,389.51"],["H","6,389.51"],["L","6,389.44"],["C","6,389.44"],["","−0.06 (−0.00%)"]],37,32.5,508);
el(`<div style="width:20px;height:7px;background:#9a9ca2;border-radius:4px"></div>`,`left:430px;top:225px;width:40px;height:42px;background:#eceded;border-radius:20px;display:flex;align-items:center;justify-content:center`);
chevronBox(184,283,76,47,30);
legend(21,1542,"SPXW250808C6380.0 · 1 · OPRA",[["O","9.4"],["H","10.1"],["L","6.8"],["C","8.9"],["","−0.5 (−5.32%)"]],20.3,18.5,348);
chevronBox(17,1562,43,25,17);
legend(1763,1535,"SPXW250808P6380.0 · 1 · OPRA",[["O","0.05"],["H","0.05"],["L","0.05"],["C","0.05"],["","0.00 (0.00%)"]],20.5,18.5,2093);
chevronBox(1760,1555,42,26,17);
// seal
const sealPink="#f5b8b3";
el(`<div style="display:grid;grid-template-columns:1fr 1fr;grid-template-rows:1fr 1fr;width:100%;height:100%;font:900 50px/1 'Noto Sans CJK SC',sans-serif;color:${sealPink};text-align:center;align-items:center"><span>欧</span><span>之</span><span>印</span><span>耶</span></div>`,
   `left:3277px;top:2231px;width:126px;height:125px;box-sizing:border-box;border:7px solid ${sealPink};background:#fff`);
</script></body></html>
